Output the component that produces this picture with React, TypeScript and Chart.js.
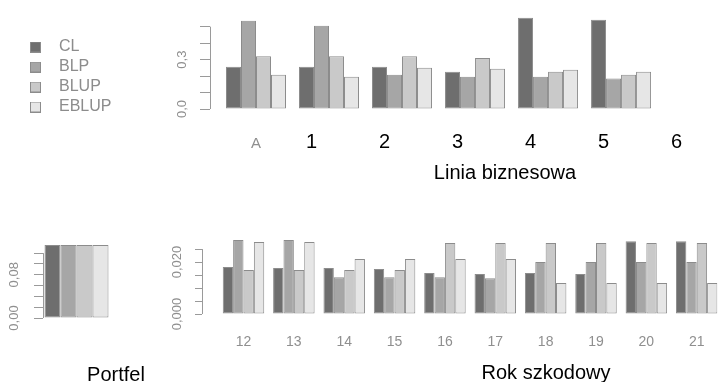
import React, { useEffect, useRef } from 'react';
import { Chart, registerables } from 'chart.js';

Chart.register(...registerables);

// ---------- data ----------
const series = ['CL', 'BLP', 'BLUP', 'EBLUP'];

// Top panel: Linia biznesowa
const lineGroups = [0, 1, 2, 3, 4, 5];
const lineTickLabels = ['A', '', '', '', '', ''];
const lineNumberLabels = ['1', '2', '3', '4', '5', '6'];
const lineCL = [0.256, 0.256, 0.256, 0.226, 0.554, 0.542];
const lineBLP = [0.536, 0.506, 0.208, 0.196, 0.196, 0.185];
const lineBLUP = [0.321, 0.321, 0.321, 0.31, 0.226, 0.208];
const lineEBLUP = [0.208, 0.196, 0.25, 0.244, 0.238, 0.226];
const lineYTicks = [0, 0.1, 0.2, 0.3, 0.4, 0.5];
const lineYTickLabels = ['0,0', '', '', '0,3', '', ''];

// Bottom-left panel: Portfel
const portfelLabels = ['Portfel'];
const portfelCL = [0.135];
const portfelBLP = [0.135];
const portfelBLUP = [0.135];
const portfelEBLUP = [0.135];
const portfelYTicks = [0, 0.02, 0.04, 0.06, 0.08, 0.1, 0.12];
const portfelYTickLabels = ['0,00', '', '', '', '0,08', '', ''];

// Bottom-right panel: Rok szkodowy
const yearGroups = [0, 1, 2, 3, 4, 5, 6, 7, 8, 9];
const yearLabels = ['12', '13', '14', '15', '16', '17', '18', '19', '20', '21'];
const yearCL = [0.0181, 0.0177, 0.0177, 0.0173, 0.0158, 0.0154, 0.0158, 0.0154, 0.028, 0.028];
const yearBLP = [0.0285, 0.0285, 0.0142, 0.0142, 0.0142, 0.0138, 0.02, 0.02, 0.02, 0.02];
const yearBLUP = [0.0169, 0.0169, 0.0169, 0.0169, 0.0273, 0.0273, 0.0273, 0.0273, 0.0273, 0.0273];
const yearEBLUP = [0.0277, 0.0277, 0.0212, 0.0212, 0.0212, 0.0212, 0.0119, 0.0119, 0.0119, 0.0119];
const yearYTicks = [0, 0.005, 0.01, 0.015, 0.02, 0.025];
const yearYTickLabels = ['0,000', '', '', '', '0,020', ''];

// ---------- styles ----------
const seriesColors = ['#6e6e6e', '#a6a6a6', '#c9c9c9', '#e6e6e6'];
const barEdge = '#8c8c8c';
const tickGrey = '#8f8f8f';
const axisGrey = '#9a9a9a';
const FAMILY = '"Liberation Sans", Arial, Helvetica, sans-serif';

const rAxisLine = {
  id: 'rAxisLine',
  afterDraw(chart: any, _a: any, opts: any) {
    const s = chart.scales.y;
    const ticks = s.ticks;
    if (!ticks || !ticks.length) return;
    const ctx = chart.ctx;
    ctx.save();
    ctx.strokeStyle = opts.color || axisGrey;
    ctx.lineWidth = 1;
    const x = Math.round(s.right - 0.5) + 0.5;
    ctx.beginPath();
    ctx.moveTo(x, s.getPixelForValue(ticks[0].value));
    ctx.lineTo(x, s.getPixelForValue(ticks[ticks.length - 1].value));
    ctx.stroke();
    ctx.restore();
  },
};

const overlayText = {
  id: 'overlayText',
  afterDraw(chart: any, _a: any, opts: any) {
    if (!opts || !opts.items) return;
    const ctx = chart.ctx;
    ctx.save();
    ctx.font = opts.font;
    ctx.fillStyle = opts.color;
    ctx.textAlign = 'center';
    ctx.textBaseline = 'middle';
    for (const it of opts.items) {
      const x = it.xValue !== undefined ? chart.scales.x.getPixelForValue(it.xValue) : it.x;
      ctx.fillText(it.text, x, it.y);
    }
    ctx.restore();
  },
};

function ds(values: number[][], groups: number[] | null, catPct: number) {
  return series.map((name, s) => ({
    label: name,
    data: groups ? values[s].map((v, i) => ({ x: groups[i], y: v })) : values[s],
    backgroundColor: seriesColors[s],
    borderColor: barEdge,
    borderWidth: 1,
    borderSkipped: false,
    categoryPercentage: catPct,
    barPercentage: 1,
  }));
}

function yAxis(min: number, max: number, ticksArr: number[], labels: string[], tl: number, pad: number, width: (s: any) => number) {
  return {
    min,
    max,
    afterBuildTicks: (s: any) => {
      s.ticks = ticksArr.map((v) => ({ value: v }));
    },
    afterFit: (s: any) => {
      s.width = width(s);
    },
    grid: { display: true, drawOnChartArea: false, drawTicks: true, tickLength: tl, color: axisGrey },
    border: { display: false },
    ticks: {
      autoSkip: false,
      minRotation: 90,
      maxRotation: 90,
      crossAlign: 'center',
      padding: pad,
      color: tickGrey,
      font: { family: FAMILY, size: 13 },
      callback: (_v: any, i: number) => labels[i],
    },
  };
}

function ChartCanvas({ w, h, left, top, make }: { w: number; h: number; left: number; top: number; make: () => any }) {
  const ref = useRef<HTMLCanvasElement | null>(null);
  useEffect(() => {
    if (!ref.current) return;
    const chart = new Chart(ref.current, make());
    return () => chart.destroy();
  }, []);
  return (
    <div style={{ position: 'absolute', left, top, width: w, height: h }}>
      <canvas ref={ref} width={w} height={h} style={{ width: w, height: h, display: 'block' }} />
    </div>
  );
}

function makeTop() {
  const icons = seriesColors.map((c) => {
    const cv = document.createElement('canvas');
    cv.width = 11;
    cv.height = 11;
    const g = cv.getContext('2d')!;
    g.fillStyle = c;
    g.fillRect(0, 0, 11, 11);
    g.strokeStyle = barEdge;
    g.lineWidth = 1;
    g.strokeRect(0.5, 0.5, 10, 10);
    return cv;
  });
  return {
    type: 'bar',
    data: { datasets: ds([lineCL, lineBLP, lineBLUP, lineEBLUP], lineGroups, 0.822) },
    options: {
      animation: false,
      responsive: false,
      events: [],
      layout: { padding: { left: 16, top: 15, right: 0, bottom: 0 } },
      plugins: {
        tooltip: { enabled: false },
        legend: {
          position: 'left',
          align: 'start',
          title: { display: true, text: ' ', font: { family: FAMILY, size: 12 }, padding: { top: 5.6, bottom: 0 } },
          labels: {
            usePointStyle: true,
            pointStyleWidth: 31,
            boxHeight: 11,
            padding: 4,
            color: '#8c8c8c',
            font: { family: FAMILY, size: 16 },
            generateLabels: (chart: any) =>
              Chart.defaults.plugins.legend.labels.generateLabels(chart).map((it: any, i: number) => ({
                ...it,
                pointStyle: icons[i],
              })),
          },
        },
        rAxisLine: { color: axisGrey },
        overlayText: {
          font: `20px ${FAMILY}`,
          color: '#000',
          items: [
            ...lineNumberLabels.map((t, i) => ({ text: t, xValue: i + 1 - 0.24, y: 142 })),
            { text: 'Linia biznesowa', x: 505, y: 173 },
          ],
        },
      },
      scales: {
        x: {
          type: 'linear',
          offset: false,
          min: -0.63,
          max: 6.41,
          grid: { display: false, drawTicks: false },
          border: { display: false },
          afterBuildTicks: (s: any) => {
            s.ticks = lineGroups.map((v) => ({ value: v }));
          },
          afterFit: (s: any) => {
            s.height = 81;
          },
          ticks: {
            autoSkip: false,
            maxRotation: 0,
            padding: 25.5,
            color: tickGrey,
            font: { family: FAMILY, size: 15 },
            callback: (_v: any, i: number) => lineTickLabels[i],
          },
        },
        y: yAxis(0, 0.56, lineYTicks, lineYTickLabels, 10, 9, (s) => {
          const lg = s.chart.legend;
          return 210 - 16 - (lg && lg.width ? lg.width : 100);
        }),
      },
    },
    plugins: [rAxisLine, overlayText],
  };
}

function makePortfel() {
  return {
    type: 'bar',
    data: { labels: portfelLabels, datasets: ds([portfelCL, portfelBLP, portfelBLUP, portfelEBLUP], null, 0.955) },
    options: {
      animation: false,
      responsive: false,
      events: [],
      layout: { padding: { left: 0, top: 25, right: 50, bottom: 64 } },
      plugins: {
        tooltip: { enabled: false },
        legend: { display: false },
        rAxisLine: { color: axisGrey },
        overlayText: {
          font: `20px ${FAMILY}`,
          color: '#000',
          items: [{ text: portfelLabels[0], x: 116, y: 155 }],
        },
      },
      scales: {
        x: { display: false },
        y: yAxis(0, 0.135, portfelYTicks, portfelYTickLabels, 9, 6.5, () => 43),
      },
    },
    plugins: [rAxisLine, overlayText],
  };
}

function makeYears() {
  return {
    type: 'bar',
    data: { datasets: ds([yearCL, yearBLP, yearBLUP, yearEBLUP], yearGroups, 0.824) },
    options: {
      animation: false,
      responsive: false,
      events: [],
      layout: { padding: { left: 0, top: 20, right: 0, bottom: 0 } },
      plugins: {
        tooltip: { enabled: false },
        legend: { display: false },
        rAxisLine: { color: axisGrey },
        overlayText: {
          font: `20px ${FAMILY}`,
          color: '#000',
          items: [{ text: 'Rok szkodowy', x: 396, y: 153 }],
        },
      },
      scales: {
        x: {
          type: 'linear',
          offset: false,
          min: -0.824,
          max: 9.41,
          grid: { display: false, drawTicks: false },
          border: { display: false },
          afterBuildTicks: (s: any) => {
            s.ticks = yearGroups.map((v) => ({ value: v }));
          },
          afterFit: (s: any) => {
            s.height = 68;
          },
          ticks: {
            autoSkip: false,
            maxRotation: 0,
            padding: 19.5,
            color: tickGrey,
            font: { family: FAMILY, size: 14 },
            callback: (_v: any, i: number) => yearLabels[i],
          },
        },
        y: yAxis(0, 0.0285, yearYTicks, yearYTickLabels, 7, 1, () => 52),
      },
    },
    plugins: [rAxisLine, overlayText],
  };
}

export default function App() {
  return (
    <div style={{ position: 'absolute', left: 0, top: 0, width: 724, height: 382, background: '#fff', overflow: 'hidden' }}>
      <ChartCanvas w={724} h={190} left={0} top={0} make={makeTop} />
      <ChartCanvas w={160} h={162} left={0} top={220} make={makePortfel} />
      <ChartCanvas w={574} h={162} left={150} top={220} make={makeYears} />
    </div>
  );
}
